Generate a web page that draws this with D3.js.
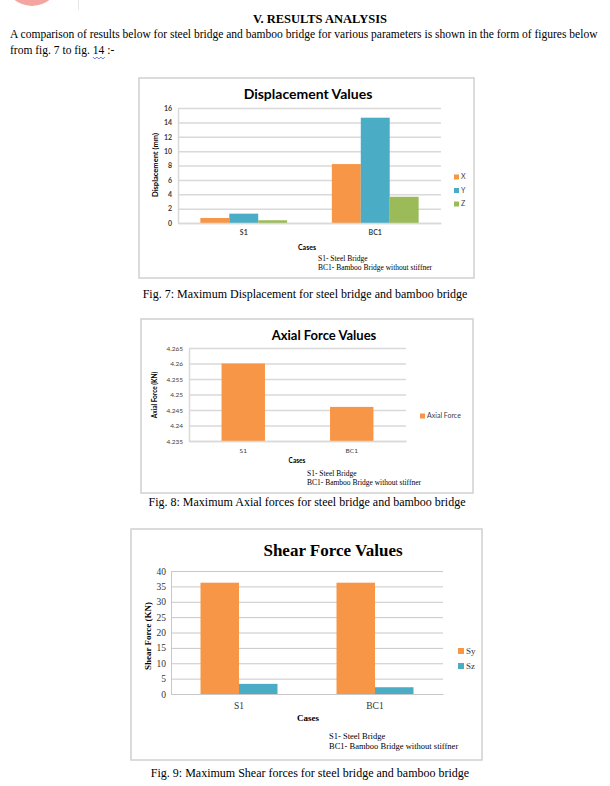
<!DOCTYPE html>
<html><head><meta charset="utf-8">
<script src="https://cdn.jsdelivr.net/npm/d3@7"></script>
<style>
html,body{margin:0;padding:0;background:#fff;}
svg{display:block;}
</style></head>
<body>
<svg id="page" width="610" height="786"></svg>
<script>
// ---------- data ----------
const categories = ["S1", "BC1"];
// Fig 7 – displacement (mm)
const dispSeries = ["X", "Y", "Z"];
const dispX = [0.7, 8.2];
const dispY = [1.3, 14.65];
const dispZ = [0.38, 3.65];
const dispTicks = [0, 2, 4, 6, 8, 10, 12, 14, 16];
// Fig 8 – axial force (KN)
const axialSeries = ["Axial Force"];
const axialForce = [4.26, 4.246];
const axialTicks = [4.235, 4.24, 4.245, 4.25, 4.255, 4.26, 4.265];
// Fig 9 – shear force (KN)
const shearSeries = ["Sy", "Sz"];
const shearSy = [36.2, 36.2];
const shearSz = [3.3, 2.2];
const shearTicks = [0, 5, 10, 15, 20, 25, 30, 35, 40];

const notes = ["S1- Steel Bridge", "BC1- Bamboo Bridge  without  stiffner"];
const colors = {orange: "#F79646", blue: "#4BACC6", green: "#9BBB59"};

const svg = d3.select("#page");
const SERIF = "'Liberation Serif','Times New Roman',serif";
const SANS = "Lato,'Open Sans',sans-serif";

// ---------- page header ----------
svg.append("circle").attr("cx", 32).attr("cy", -22).attr("r", 28).attr("fill", "#F4A5A0");
svg.append("line").attr("x1", 78.5).attr("x2", 78.5).attr("y1", 0).attr("y2", 10).attr("stroke", "#e6e6e6");
svg.append("text").attr("x", 320).attr("y", 23).attr("text-anchor", "middle")
  .attr("font-family", SERIF).attr("font-weight", "bold").attr("font-size", 12.5)
  .text("V.  RESULTS ANALYSIS");
const para1 = svg.append("text").attr("x", 10).attr("y", 38).attr("font-family", SERIF).attr("font-size", 12.5)
  .text("A comparison of results below for steel bridge and bamboo bridge for various parameters is shown in the form of figures below");
const para2 = svg.append("text").attr("x", 10).attr("y", 54).attr("font-family", SERIF).attr("font-size", 12.5)
  .text("from fig. 7 to fig. 14 :-");
{
  const nat1 = para1.node().getComputedTextLength();
  const fs = Math.min(12.5, 12.5 * 588 / nat1);
  para1.attr("font-size", fs);
  para2.attr("font-size", fs);
}
// wavy underline under "14"
{
  const s = "from fig. 7 to fig. 14 :-";
  const i0 = s.indexOf("14");
  const n = para2.node();
  const xa = n.getStartPositionOfChar(i0).x;
  const xb = n.getEndPositionOfChar(i0 + 1).x;
  let d = `M${xa},57`;
  for (let xx = xa, k = 0; xx < xb - 0.5; xx += 2, k++) d += ` l2,${k % 2 ? -2 : 2}`;
  svg.append("path").attr("d", d).attr("fill", "none").attr("stroke", "#3b5bdb").attr("stroke-width", 0.8);
}

// ---------- generic chart ----------
function chart(o) {
  const g = svg.append("g");
  g.append("rect").attr("x", o.frame[0]).attr("y", o.frame[1])
    .attr("width", o.frame[2] - o.frame[0]).attr("height", o.frame[3] - o.frame[1])
    .attr("fill", "#fff").attr("stroke", "#d0d0d0").attr("stroke-width", 1.5);

  const x0 = d3.scaleBand().domain(categories).range([o.plot[0], o.plot[1]]).paddingInner(o.pad).paddingOuter(o.pad / 2);
  const x1 = d3.scaleBand().domain(o.series).range([0, x0.bandwidth()]);
  const y = d3.scaleLinear().domain([o.ticks[0], o.ticks[o.ticks.length - 1]]).range([o.plot[3], o.plot[2]]);

  // gridlines
  const grid = d3.axisLeft(y).tickValues(o.ticks).tickSize(-(o.plot[1] - o.plot[0])).tickFormat("");
  const gg = g.append("g").attr("transform", `translate(${o.plot[0]},0)`).call(grid);
  gg.select(".domain").remove();
  gg.selectAll("line").attr("stroke", o.gridColor).attr("stroke-width", o.gridW);

  // bars
  o.values.forEach((vals, si) => {
    g.append("g").selectAll("rect").data(vals).join("rect")
      .attr("x", (d, i) => x0(categories[i]) + x1(o.series[si]))
      .attr("width", x1.bandwidth())
      .attr("y", d => y(d))
      .attr("height", d => y(o.ticks[0]) - y(d))
      .attr("fill", o.colors[si]);
  });

  // y axis
  const ya = g.append("g").attr("transform", `translate(${o.plot[0]},0)`)
    .call(d3.axisLeft(y).tickValues(o.ticks).tickSize(0).tickPadding(o.tickPad).tickFormat(d3.format("")));
  ya.select(".domain").attr("stroke", o.gridColor).attr("stroke-width", o.gridW);
  ya.selectAll("text").attr("font-family", o.font).attr("font-size", o.tickFs)
    .attr("fill", o.tickColor).attr("font-weight", o.tickWeight);

  // x axis
  const xa = g.append("g").attr("transform", `translate(0,${o.plot[3]})`)
    .call(d3.axisBottom(x0).tickSize(0).tickPadding(o.xPad));
  xa.select(".domain").attr("stroke", o.gridColor).attr("stroke-width", o.gridW);
  xa.selectAll("text").attr("font-family", o.font).attr("font-size", o.tickFs)
    .attr("fill", o.tickColor).attr("font-weight", o.tickWeight);

  // title
  g.append("text").attr("x", o.title[1]).attr("y", o.title[2]).attr("text-anchor", "middle")
    .attr("font-family", o.titleFont).attr("font-weight", "bold").attr("font-size", o.titleFs)
    .attr("fill", "#000").text(o.title[0]);
  // y title
  g.append("text").attr("transform", `translate(${o.ytitle[1]},${o.ytitle[2]}) rotate(-90)`)
    .attr("text-anchor", "middle").attr("font-family", o.font).attr("font-weight", "bold")
    .attr("font-size", o.ytFs).attr("fill", "#000").text(o.ytitle[0]);
  // x title
  g.append("text").attr("x", o.xtitle[0]).attr("y", o.xtitle[1]).attr("text-anchor", "middle")
    .attr("font-family", o.font).attr("font-weight", "bold").attr("font-size", o.xtFs)
    .attr("fill", "#000").text("Cases");
  // notes
  notes.forEach((t, i) => {
    g.append("text").attr("x", o.notes[0]).attr("y", o.notes[1] + i * o.notes[2])
      .attr("font-family", SERIF).attr("font-size", o.notesFs).attr("fill", "#000").text(t);
  });
  // legend
  o.series.forEach((s, i) => {
    const ly = o.legend[1] + i * o.legend[2];
    g.append("rect").attr("x", o.legend[0]).attr("y", ly - o.legSq / 2).attr("width", o.legSq).attr("height", o.legSq).attr("fill", o.colors[i]);
    g.append("text").attr("x", o.legend[0] + o.legSq + 2).attr("y", ly).attr("dy", "0.35em")
      .attr("font-family", o.font).attr("font-size", o.legFs).attr("fill", o.tickColor).text(s);
  });
  // caption
  svg.append("text").attr("x", o.caption[1]).attr("y", o.caption[2]).attr("text-anchor", "middle")
    .attr("font-family", SERIF).attr("font-size", 12).attr("fill", "#000").text(o.caption[0]);
}

chart({
  frame: [139, 78, 474, 278], plot: [178, 441, 108, 223], pad: 0.34,
  series: dispSeries, values: [dispX, dispY, dispZ], colors: [colors.orange, colors.blue, colors.green],
  ticks: dispTicks, gridColor: "#d9d9d9", gridW: 1.5, font: SANS, tickFs: 7, tickColor: "#404040", tickWeight: "bold",
  tickPad: 6, xPad: 7,
  title: ["Displacement Values", 308, 99], titleFont: SANS, titleFs: 14,
  ytitle: ["Displacement (mm)", 158, 165], ytFs: 7.5,
  xtitle: [307, 250], xtFs: 7,
  notes: [318, 261, 9], notesFs: 7.5,
  legend: [454, 177, 13.5], legSq: 5, legFs: 7,
  caption: ["Fig. 7: Maximum Displacement for steel bridge and bamboo bridge", 305, 298]
});

chart({
  frame: [141, 319, 473, 493], plot: [189, 406, 348, 441], pad: 0.6,
  series: axialSeries, values: [axialForce], colors: [colors.orange],
  ticks: axialTicks, gridColor: "#d9d9d9", gridW: 1.5, font: SANS, tickFs: 6.5, tickColor: "#404040", tickWeight: "normal",
  tickPad: 6, xPad: 7,
  title: ["Axial Force Values", 324, 340], titleFont: SANS, titleFs: 13,
  ytitle: ["Axial Force (KN)", 157, 395], ytFs: 6.5,
  xtitle: [297, 463], xtFs: 6.5,
  notes: [307, 476, 9], notesFs: 7.5,
  legend: [420, 416, 12], legSq: 5, legFs: 7,
  caption: ["Fig. 8: Maximum Axial forces for steel bridge and bamboo bridge", 307, 506]
});

chart({
  frame: [131, 529, 482, 760], plot: [171, 443, 571, 694], pad: 0.434,
  series: shearSeries, values: [shearSy, shearSz], colors: [colors.orange, colors.blue],
  ticks: shearTicks, gridColor: "#c8c8c8", gridW: 1, font: SERIF, tickFs: 9.5, tickColor: "#333", tickWeight: "normal",
  tickPad: 5, xPad: 8,
  title: ["Shear Force Values", 333, 556], titleFont: SERIF, titleFs: 17,
  ytitle: ["Shear Force (KN)", 151, 636], ytFs: 9,
  xtitle: [308, 721], xtFs: 9,
  notes: [329, 739, 10], notesFs: 8.5,
  legend: [458, 651, 15], legSq: 6, legFs: 9,
  caption: ["Fig. 9: Maximum Shear forces for steel bridge and bamboo bridge", 310, 777]
});
</script>
</body></html>
